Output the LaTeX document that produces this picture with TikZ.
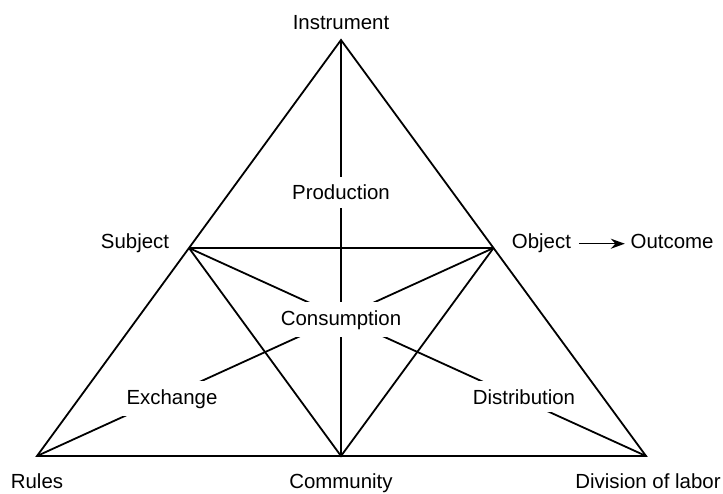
\documentclass[tikz,border=0pt]{standalone}
\usepackage{fontspec}
\setmainfont{Liberation Sans}
\usepackage{tikz}
\usetikzlibrary{arrows.meta}

\begin{document}
\begin{tikzpicture}[x=1bp, y=-1bp, line width=1.8bp,
    vlbl/.style={font=\fontsize{20.5}{24}\selectfont, inner sep=0pt, anchor=base},
    mid/.style={font=\fontsize{20.5}{24}\selectfont, fill=white, inner sep=8bp, anchor=base}]
  \useasboundingbox (0,0) rectangle (723,494);
  \coordinate (vI) at (341,40);
  \coordinate (vR) at (37,456);
  \coordinate (vD) at (646,456);
  \coordinate (vC) at (341,456);
  \coordinate (vS) at (189,248);
  \coordinate (vO) at (493.5,248);

  \draw (vR) -- (vI) -- (vD) -- cycle;
  \draw (vI) -- (vC);
  \draw (vS) -- (vO);
  \draw (vS) -- (vC) -- (vO);
  \draw (vS) -- (vD);
  \draw (vO) -- (vR);

  \node[vlbl] (instr) at (341,30) {Instrument};
  \node[vlbl, anchor=base east] (subj) at (170,249) {Subject};
  \node[vlbl, anchor=base west] (obj) at (511,249) {Object};
  \node[vlbl, anchor=base west] (outc) at ([xshift=58bp]obj.base east) {Outcome};
  \draw[line width=1.4bp, -{Stealth[length=14bp, width=10bp]}] ([xshift=7bp]obj.east) -- ([xshift=-5bp]obj.east -| outc.west);
  \node[vlbl] (rules) at (37,488) {Rules};
  \node[vlbl] (comm) at (341,488) {Community};
  \node[vlbl] (divl) at (648,488) {Division of labor};

  \node[mid] (prod) at (341,200) {Production};
  \node[mid] (cons) at (341,325) {Consumption};
  \node[mid] (exch) at (172,404) {Exchange};
  \node[mid] (dist) at (524,404) {Distribution};
\end{tikzpicture}
\end{document}
